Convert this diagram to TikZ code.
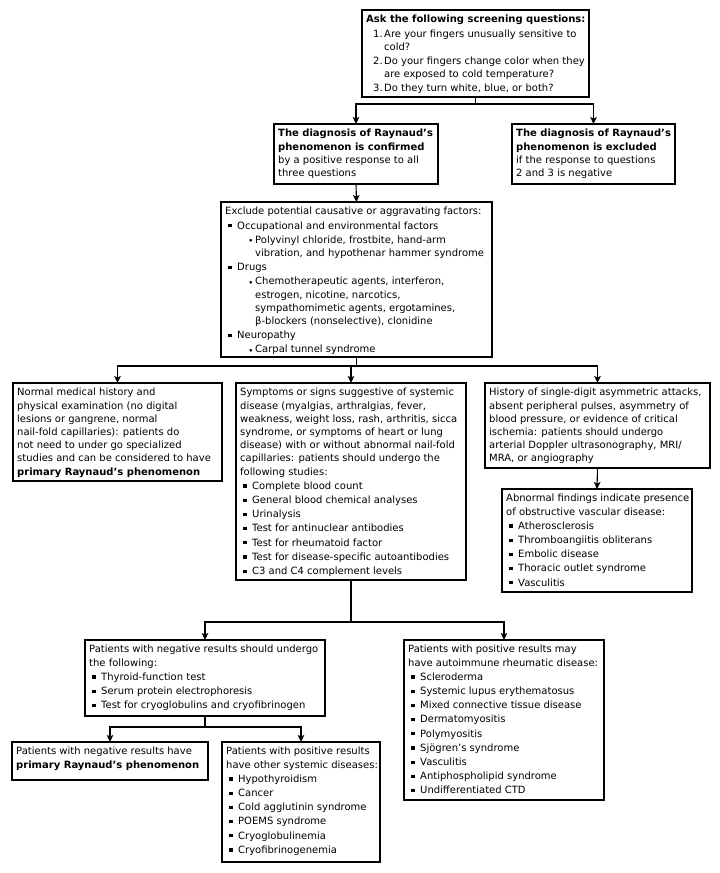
\documentclass[tikz,border=0pt]{standalone}
\usepackage{fontspec}
\setmainfont{DejaVu Sans}
\usetikzlibrary{arrows.meta,calc}
\newcommand\Sq{\hspace*{3pt}\makebox[9pt][l]{\raisebox{1.6pt}{\rule{3.3pt}{3.3pt}}}}
\newcommand\In{\hspace*{12pt}}
\newcommand\Dt{\hspace*{24pt}\makebox[6pt][l]{\raisebox{0.8pt}{\scalebox{0.7}{$\bullet$}}}}
\newcommand\InIn{\hspace*{30pt}}
\newcommand\Nm[1]{\hspace*{7pt}\makebox[11pt][l]{#1}}
\newcommand\ib{1pt}
\tikzset{
  box/.style={draw, line width=1.2pt, anchor=north west, inner sep=0pt, outer sep=0pt},
  txt/.style={anchor=north west, inner sep=0pt, align=left, font=\fontsize{10}{13.2}\selectfont},
  arr/.style={line width=1.1pt, -{Stealth[length=7pt,width=6.5pt,inset=1.5pt]}},
  ln/.style={line width=1.1pt}
}
\begin{document}
\begin{tikzpicture}[x=1pt,y=-1pt]
\useasboundingbox (0,0) rectangle (720,873);
% boxes
\node[box, minimum width=227pt, minimum height=87pt] (A) at (362,10) {};
\node[box, minimum width=164pt, minimum height=60pt] (B) at (274,124) {};
\node[box, minimum width=163pt, minimum height=60pt] (C) at (512,124) {};
\node[box, minimum width=271pt, minimum height=155pt] (D) at (221,202) {};
\node[box, minimum width=209pt, minimum height=98pt] (E) at (13,383) {};
\node[box, minimum width=230pt, minimum height=197pt] (F) at (236,383) {};
\node[box, minimum width=225pt, minimum height=85pt] (G) at (485,383) {};
\node[box, minimum width=190pt, minimum height=103pt] (H) at (502,489) {};
\node[box, minimum width=240pt, minimum height=76pt] (I) at (85,640) {};
\node[box, minimum width=200pt, minimum height=160pt] (J) at (404,640) {};
\node[box, minimum width=196pt, minimum height=38pt] (K) at (12,742) {};
\node[box, minimum width=158pt, minimum height=120pt] (L) at (222,742) {};
% texts
\node[txt] (At) at ([xshift=4pt,yshift=-5pt]A.north west) {%
\textbf{Ask the following screening questions:}\\[\ib]
\Nm{1.}Are your fingers unusually sensitive to\\
\In\hspace*{6pt}cold?\\[\ib]
\Nm{2.}Do your fingers change color when they\\
\In\hspace*{6pt}are exposed to cold temperature?\\[\ib]
\Nm{3.}Do they turn white, blue, or both?};
\node[txt] (Bt) at ([xshift=4pt,yshift=-5pt]B.north west) {%
\textbf{The diagnosis of Raynaud’s}\\
\textbf{phenomenon is confirmed}\\
by a positive response to all\\
three questions};
\node[txt] (Ct) at ([xshift=4pt,yshift=-5pt]C.north west) {%
\textbf{The diagnosis of Raynaud’s}\\
\textbf{phenomenon is excluded}\\
if the response to questions\\
2 and 3 is negative};
\node[txt] (Dt) at ([xshift=4pt,yshift=-5pt]D.north west) {%
Exclude potential causative or aggravating factors:\\[\ib]
\Sq Occupational and environmental factors\\[\ib]
\Dt Polyvinyl chloride, frostbite, hand-arm\\
\InIn vibration, and hypothenar hammer syndrome\\[\ib]
\Sq Drugs\\[\ib]
\Dt Chemotherapeutic agents, interferon,\\
\InIn estrogen, nicotine, narcotics,\\
\InIn sympathomimetic agents, ergotamines,\\
\InIn β-blockers (nonselective), clonidine\\[\ib]
\Sq Neuropathy\\[\ib]
\Dt Carpal tunnel syndrome};
\node[txt] (Et) at ([xshift=4pt,yshift=-5pt]E.north west) {%
Normal medical history and\\
physical examination (no digital\\
lesions or gangrene, normal\\
nail-fold capillaries): patients do\\
not need to under go specialized\\
studies and can be considered to have\\
\textbf{primary Raynaud’s phenomenon}};
\node[txt] (Ft) at ([xshift=4pt,yshift=-5pt]F.north west) {%
Symptoms or signs suggestive of systemic\\
disease (myalgias, arthralgias, fever,\\
weakness, weight loss, rash, arthritis, sicca\\
syndrome, or symptoms of heart or lung\\
disease) with or without abnormal nail-fold\\
capillaries: patients should undergo the\\
following studies:\\[\ib]
\Sq Complete blood count\\[\ib]
\Sq General blood chemical analyses\\[\ib]
\Sq Urinalysis\\[\ib]
\Sq Test for antinuclear antibodies\\[\ib]
\Sq Test for rheumatoid factor\\[\ib]
\Sq Test for disease-specific autoantibodies\\[\ib]
\Sq C3 and C4 complement levels};
\node[txt] (Gt) at ([xshift=4pt,yshift=-5pt]G.north west) {%
History of single-digit asymmetric attacks,\\
absent peripheral pulses, asymmetry of\\
blood pressure, or evidence of critical\\
ischemia: patients should undergo\\
arterial Doppler ultrasonography, MRI/\\
MRA, or angiography};
\node[txt] (Ht) at ([xshift=4pt,yshift=-5pt]H.north west) {%
Abnormal findings indicate presence\\
of obstructive vascular disease:\\[\ib]
\Sq Atherosclerosis\\[\ib]
\Sq Thromboangiitis obliterans\\[\ib]
\Sq Embolic disease\\[\ib]
\Sq Thoracic outlet syndrome\\[\ib]
\Sq Vasculitis};
\node[txt] (It) at ([xshift=4pt,yshift=-5pt]I.north west) {%
Patients with negative results should undergo\\
the following:\\[\ib]
\Sq Thyroid-function test\\[\ib]
\Sq Serum protein electrophoresis\\[\ib]
\Sq Test for cryoglobulins and cryofibrinogen};
\node[txt] (Jt) at ([xshift=4pt,yshift=-5pt]J.north west) {%
Patients with positive results may\\
have autoimmune rheumatic disease:\\[\ib]
\Sq Scleroderma\\[\ib]
\Sq Systemic lupus erythematosus\\[\ib]
\Sq Mixed connective tissue disease\\[\ib]
\Sq Dermatomyositis\\[\ib]
\Sq Polymyositis\\[\ib]
\Sq Sjögren’s syndrome\\[\ib]
\Sq Vasculitis\\[\ib]
\Sq Antiphospholipid syndrome\\[\ib]
\Sq Undifferentiated CTD};
\node[txt] (Kt) at ([xshift=4pt,yshift=-5pt]K.north west) {%
Patients with negative results have\\
\textbf{primary Raynaud’s phenomenon}};
\node[txt] (Lt) at ([xshift=4pt,yshift=-5pt]L.north west) {%
Patients with positive results\\
have other systemic diseases:\\[\ib]
\Sq Hypothyroidism\\[\ib]
\Sq Cancer\\[\ib]
\Sq Cold agglutinin syndrome\\[\ib]
\Sq POEMS syndrome\\[\ib]
\Sq Cryoglobulinemia\\[\ib]
\Sq Cryofibrinogenemia};
% connectors
\coordinate (j1) at (0,104);
\draw[ln] (A.south) -- (A.south |- j1);
\draw[arr] (A.south |- j1) -| (B.north);
\draw[arr] (A.south |- j1) -| (C.north);
\draw[arr] (B.south) -- (D.north);
\coordinate (j2) at (0,366);
\draw[ln] (D.south) -- (D.south |- j2);
\draw[arr] (D.south |- j2) -| (E.north);
\draw[arr] (D.south |- j2) -| (G.north);
\draw[arr] (F.north |- j2) -- (F.north);
\draw[arr] (G.south) -- (H.north);
\coordinate (j3) at (0,622);
\draw[ln] (F.south) -- (F.south |- j3);
\draw[arr] (F.south |- j3) -| (I.north);
\draw[arr] (F.south |- j3) -| (J.north);
\coordinate (j4) at (0,727);
\draw[ln] (I.south) -- (I.south |- j4);
\draw[arr] (I.south |- j4) -| (K.north);
\draw[arr] (I.south |- j4) -| (L.north);
\end{tikzpicture}
\end{document}
